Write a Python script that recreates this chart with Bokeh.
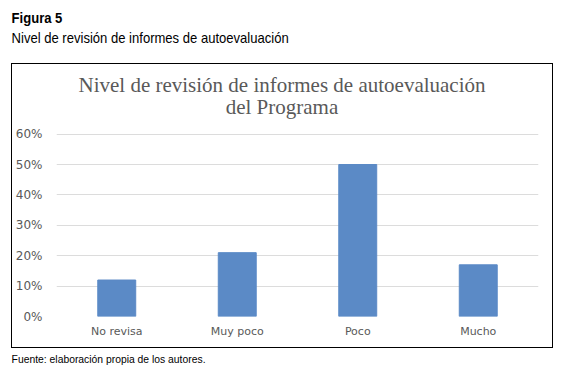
from bokeh.plotting import figure
from bokeh.models import (FactorRange, Range1d, FixedTicker, NumeralTickFormatter, Div)
from bokeh.layouts import column
from bokeh.embed import file_html
from bokeh.resources import INLINE

categories = ["No revisa", "Muy poco", "Poco", "Mucho"]
values = [0.12, 0.21, 0.50, 0.17]
y_ticks = [0, 0.1, 0.2, 0.3, 0.4, 0.5, 0.6]

fig_label = "Figura 5"
fig_caption = "Nivel de revisión de informes de autoevaluación"
chart_title_1 = "Nivel de revisión de informes de autoevaluación"
chart_title_2 = "del Programa"
source_note = "Fuente: elaboración propia de los autores."

SANS = "'Liberation Sans', Arial, sans-serif"

header = Div(text=f"<b>{fig_label}</b><br>{fig_caption}", width=550, height=55,
             margin=(8, 0, 0, 8),
             styles={"font-family": SANS, "font-size": "14.5px",
                     "line-height": "20px", "color": "black",
                     "padding-left": "4px",
                     "transform": "scaleX(0.9)", "transform-origin": "left top"})

title_div = Div(text=f"{chart_title_1}<br>{chart_title_2}", width=540, height=60,
                margin=(0, 0, 0, 0),
                styles={"font-family": "'Liberation Serif', serif", "font-size": "21px",
                        "line-height": "22px", "color": "#595959",
                        "text-align": "center", "padding-top": "10px"})

p = figure(width=540, height=223, output_backend="svg", toolbar_location=None,
           x_range=FactorRange(factors=categories, range_padding=0),
           y_range=Range1d(0, 0.602),
           min_border_left=44, min_border_right=14,
           min_border_top=9, min_border_bottom=31,
           margin=(0, 0, 0, 0))
p.outline_line_color = None
p.background_fill_color = "white"
p.border_fill_color = "white"

p.vbar(x=categories, top=values, width=0.315, color="#5B8AC6")

p.yaxis.ticker = FixedTicker(ticks=y_ticks)
p.yaxis.formatter = NumeralTickFormatter(format="0%")
for ax in (p.xaxis[0], p.yaxis[0]):
    ax.axis_line_color = None
    ax.major_tick_line_color = None
    ax.minor_tick_line_color = None
    ax.major_label_text_color = "#595959"
    ax.major_label_text_font = "DejaVu Sans"
    ax.major_label_text_font_size = "11px"
p.yaxis.major_label_text_font_size = "12px"
p.yaxis.major_label_standoff = 8
p.xaxis.major_label_standoff = 2
p.xgrid.grid_line_color = None
p.ygrid.ticker = FixedTicker(ticks=y_ticks)
p.ygrid.grid_line_color = "#dcdcdc"
p.ygrid.grid_line_width = 1

box = column(title_div, p, spacing=0, margin=(0, 0, 0, 11),
             styles={"border": "1px solid black"})

footer = Div(text=source_note, width=550, height=20, margin=(0, 0, 0, 8),
             styles={"font-family": SANS, "font-size": "11.5px",
                     "line-height": "20px", "color": "black",
                     "padding-left": "4px", "padding-top": "1px",
                     "transform": "scaleX(0.9)", "transform-origin": "left top"})

layout = column(header, box, footer, spacing=0)
open("out.html", "w").write(file_html(layout, INLINE))
